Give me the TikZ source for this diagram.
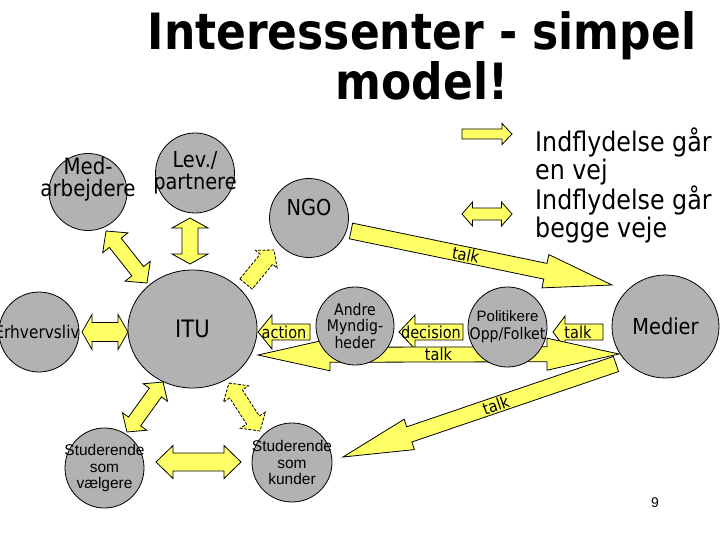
\documentclass[tikz,border=0pt]{standalone}
\usepackage{fontspec}
\setmainfont{DejaVu Sans}[FakeStretch=0.88]
\newfontfamily\arialfont{Liberation Sans}
\usepackage{xcolor}
\usepackage{tikz}
\usetikzlibrary{calc}
\usetikzlibrary{shapes.geometric}
\definecolor{stakegray}{RGB}{178,178,178}
\definecolor{fatyellow}{RGB}{255,255,102}
\tikzset{
    stake/.style = {ellipse, draw=black, fill=stakegray, line width=0.8pt, inner sep=0pt, minimum width=79pt, minimum height=79pt},
    txt/.style = {inner sep=0pt, align=center},
    tagtext/.style = {inner sep=0pt, font=\fontsize{16.5}{16.5}\selectfont},
    tiplen/.store in=\fattiplen, tiplen=12pt,
    tiphalf/.store in=\fattiphalf, tiphalf=16.5pt,
    shafthalf/.store in=\fatshafthalf, shafthalf=8pt,
    fatline/.style = {draw=black, fill=fatyellow, line width=0.8pt, line join=miter},
    faint/.style = {dash pattern=on 3pt off 1.5pt},
    fatdbl/.style = {fatline, to path={
        let \p1=(\tikztostart), \p2=(\tikztotarget), \n1={atan2(\y2-\y1,\x2-\x1)} in
        (\p1) -- ($(\p1)+(\n1:\fattiplen)+(\n1+90:\fattiphalf)$)
        -- ($(\p1)+(\n1:\fattiplen)+(\n1+90:\fatshafthalf)$)
        -- ($(\p2)+(\n1+180:\fattiplen)+(\n1+90:\fatshafthalf)$)
        -- ($(\p2)+(\n1+180:\fattiplen)+(\n1+90:\fattiphalf)$)
        -- (\p2)
        -- ($(\p2)+(\n1+180:\fattiplen)+(\n1-90:\fattiphalf)$)
        -- ($(\p2)+(\n1+180:\fattiplen)+(\n1-90:\fatshafthalf)$)
        -- ($(\p1)+(\n1:\fattiplen)+(\n1-90:\fatshafthalf)$)
        -- ($(\p1)+(\n1:\fattiplen)+(\n1-90:\fattiphalf)$)
        -- cycle}},
    fatone/.style = {fatline, to path={
        let \p1=(\tikztostart), \p2=(\tikztotarget), \n1={atan2(\y2-\y1,\x2-\x1)} in
        ($(\p1)+(\n1+90:\fatshafthalf)$)
        -- ($(\p2)+(\n1+180:\fattiplen)+(\n1+90:\fatshafthalf)$)
        -- ($(\p2)+(\n1+180:\fattiplen)+(\n1+90:\fattiphalf)$)
        -- (\p2)
        -- ($(\p2)+(\n1+180:\fattiplen)+(\n1-90:\fattiphalf)$)
        -- ($(\p2)+(\n1+180:\fattiplen)+(\n1-90:\fatshafthalf)$)
        -- ($(\p1)+(\n1-90:\fatshafthalf)$)
        -- cycle}},
}

\begin{document}
\begin{tikzpicture}[x=1pt, y=-1pt]
\useasboundingbox (0,0) rectangle (720,540);
%
\node[txt, font=\fontsize{50}{50}\selectfont\bfseries] (title) at (422,56) {Interessenter - simpel\\model!};
%
\coordinate (la) at (462,134); \coordinate (lb) at (512,134);
\coordinate (lc) at (462,214); \coordinate (ld) at (512,214);
\draw[fatone, tiplen=10pt, tiphalf=10.5pt, shafthalf=5pt] (la) to (lb);
\draw[fatdbl, tiplen=10.5pt, tiphalf=12pt, shafthalf=6pt] (lc) to (ld);
\node[txt, align=left, anchor=west, font=\fontsize{27}{27.7}\selectfont] (legend) at (535,185.5) {Indflydelse går\\en vej\\Indflydelse går\\begge veje};
%
\coordinate (a1) at (106,231); \coordinate (b1) at (147,283);
\coordinate (a2) at (190,218); \coordinate (b2) at (190,264);
\coordinate (a3) at (246,284); \coordinate (b3) at (274,250);
\coordinate (a4) at (82,332);  \coordinate (b4) at (128,332);
\coordinate (a5) at (310,332); \coordinate (b5) at (258,332);
\coordinate (a6) at (351,231); \coordinate (b6) at (612,285);
\coordinate (a7) at (463,332); \coordinate (b7) at (399,332);
\coordinate (a8) at (603,332); \coordinate (b8) at (553,332);
\coordinate (a9) at (258,355); \coordinate (b9) at (619,354);
\coordinate (a10) at (616,364); \coordinate (b10) at (343,457);
\coordinate (a11) at (163,382); \coordinate (b11) at (127,432);
\coordinate (a12) at (229,383); \coordinate (b12) at (260,431);
\coordinate (a13) at (156,462); \coordinate (b13) at (241,462);
%
\draw[fatdbl, tiplen=15pt, tiphalf=16pt, shafthalf=7.5pt] (a1) to (b1);
\draw[fatdbl, tiplen=10pt, tiphalf=18pt] (a2) to (b2);
\draw[fatone, faint, tiplen=12pt, tiphalf=14pt] (a3) to (b3);
\draw[fatdbl, tiplen=10pt, tiphalf=17.5pt, shafthalf=9.5pt] (a4) to (b4);
\draw[fatone, tiplen=14pt, tiphalf=17pt] (a5) to (b5);
\draw[fatone, tiplen=68pt, tiphalf=17pt] (a6) to (b6);
\draw[fatone, tiplen=16pt, tiphalf=17pt] (a7) to (b7);
\draw[fatone, tiplen=12pt, tiphalf=16pt] (a8) to (b8);
\draw[fatdbl, tiplen=72pt, tiphalf=16pt, shafthalf=7.5pt] (a9) to (b9);
\draw[fatone, tiplen=70pt, tiphalf=16pt] (a10) to (b10);
\draw[fatdbl, tiplen=13pt, tiphalf=15pt, shafthalf=7.5pt] (a11) to (b11);
\draw[fatdbl, faint, tiplen=13pt, tiphalf=15pt, shafthalf=7.5pt] (a12) to (b12);
\draw[fatdbl, tiplen=17pt, tiphalf=16.5pt, shafthalf=9pt] (a13) to (b13);
%
\path (a5) -- node[tagtext] {action} (b5);
\path (a6) -- node[tagtext, sloped, pos=0.44] {talk} (b6);
\path (a7) -- node[tagtext] {decision} (b7);
\path (a8) -- node[tagtext] {talk} (b8);
\path (a9) -- node[tagtext] {talk} (b9);
\path (a10) -- node[tagtext, sloped, pos=0.44] {talk} (b10);
%
\node[stake, minimum width=78pt, minimum height=77pt] (med) at (88,192) {};
\node[stake, minimum height=80pt] (lev) at (195,173) {};
\node[stake] (ngo) at (309,218) {};
\node[stake, minimum width=129pt, minimum height=118pt] (itu) at (192.5,329) {};
\node[stake, minimum width=80pt, minimum height=80pt] (erh) at (39,332) {};
\node[stake, minimum width=78pt, minimum height=78pt] (andre) at (355,326) {};
\node[stake, minimum height=80pt] (polit) at (507.5,327) {};
\node[stake, minimum width=107pt, minimum height=103pt] (medier) at (665.5,326.5) {};
\node[stake, minimum height=80pt] (stv) at (104.5,468) {};
\node[stake, minimum width=80pt] (stk) at (292,462.5) {};
%
\node[txt, font=\fontsize{22.5}{22}\selectfont] (medtxt) at (med) [yshift=13pt] {Med-\\arbejdere};
\node[txt, font=\fontsize{22}{22}\selectfont] (levtxt) at (lev) {Lev./\\partnere};
\node[txt, font=\fontsize{22}{22}\selectfont] (ngotxt) at (ngo) [yshift=11pt] {NGO};
\node[txt, font=\fontsize{24}{24}\selectfont] (itutxt) at (itu) {ITU};
\node[txt, font=\fontsize{17.5}{17.5}\selectfont] (erhtxt) at (37,332) {Erhvervsliv};
\node[txt, font=\fontsize{16}{16.5}\selectfont] (andretxt) at (andre) {Andre\\Myndig-\\heder};
\node[txt, font=\fontsize{16}{18}\selectfont] (polittxt) at (polit) {{\arialfont\fontsize{15}{18}\selectfont Politikere}\\Opp/Folket};
\node[txt, font=\fontsize{22}{22}\selectfont] (mediertxt) at (medier) {Medier};
\node[txt, font=\arialfont\fontsize{15.5}{16.5}\selectfont] (stvtxt) at (stv) {Studerende\\som\\vælgere};
\node[txt, font=\arialfont\fontsize{15.5}{16.5}\selectfont] (stktxt) at (stk) {Studerende\\som\\kunder};
%
\node[txt, font=\arialfont\fontsize{14}{14}\selectfont] (page) at (655,503) {9};
\end{tikzpicture}
\end{document}
